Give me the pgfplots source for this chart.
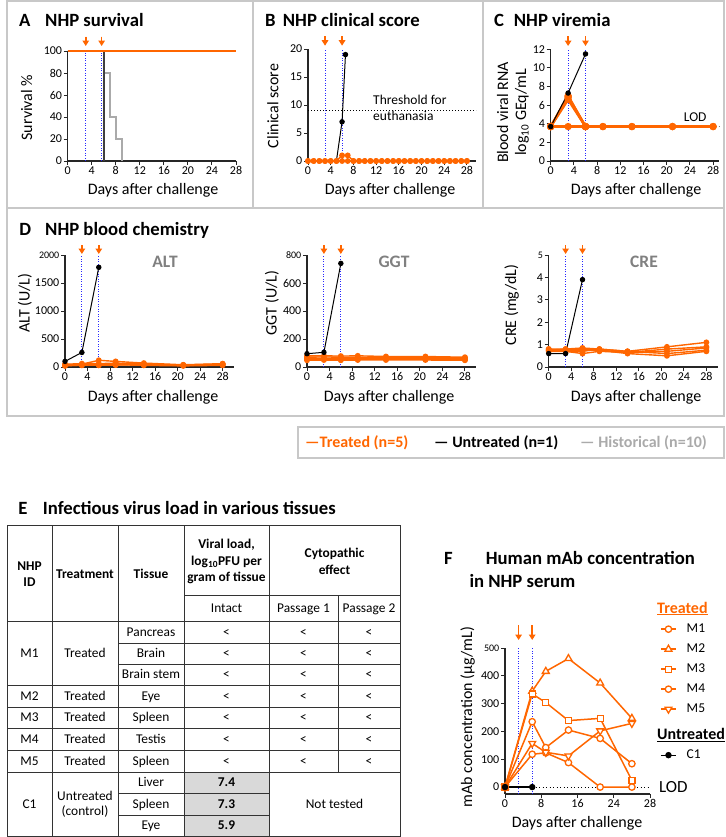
\documentclass[border=0pt]{standalone}
\usepackage{fontspec}
\setmainfont{Carlito}
\usepackage{pgfplots}
\pgfplotsset{compat=1.18}
\usetikzlibrary{arrows.meta}
\definecolor{myorg}{RGB}{255,102,0}
\definecolor{myblue}{RGB}{40,40,255}
\definecolor{hist}{RGB}{170,170,170}
\definecolor{frm}{RGB}{200,200,200}
\definecolor{cellg}{RGB}{217,217,217}
\definecolor{lblg}{RGB}{128,128,128}
\newcommand{\fs}[2]{\fontsize{#1bp}{#2bp}\selectfont}
\newcommand{\bl}[4]{\path (axis cs:#1,#3); \draw[draw=myblue, line width=1bp, dash pattern=on 1bp off 1.5bp] (axis cs:#1,#3) -- (axis cs:#1,#4) (axis cs:#2,#3) -- (axis cs:#2,#4);}
\newcommand{\arr}[4]{\draw[draw=myorg, fill=myorg, line width=1.6bp, -{Triangle[width=6.5bp,length=5.5bp]}] ([yshift=#3bp]axis cs:#1,#2) -- ([yshift=#4bp]axis cs:#1,#2);}
\newcommand{\tc}[3]{\node[anchor=base, inner sep=0pt, font=\fs{13.4}{16}] at (#1,{#2+4.4}) {#3};}
\pgfplotsset{
  gp/.style={
    scale only axis, anchor=south west,
    axis lines=left, axis line style={-, line width=1.3bp, black!85},
    tick align=outside, major tick length=4bp,
    tick style={line width=1bp, black!85},
    tick label style={font=\fs{12}{14}, inner sep=1.5bp},
    /pgf/number format/assume math mode=true,
    /pgf/number format/1000 sep={},
    clip=false, xtick={0,4,...,28},
  },
  orl/.style={color=myorg, line width=1.4bp, mark=*, mark size=2.2bp, mark options={solid}},
  orc/.style={color=myorg, line width=2.4bp, mark=*, mark size=2.4bp, mark options={solid}},
  bkl/.style={color=black, line width=1bp, mark=*, mark size=2.2bp, mark options={solid}},
  fm/.style={color=myorg, line width=1.5bp},
}
\tikzset{
  ttl/.style={anchor=base west, inner sep=0pt, font=\fs{18.7}{22}\bfseries},
  lab/.style={anchor=base, inner sep=0pt, font=\fs{16}{19}},
  ylab/.style={anchor=base, inner sep=0pt, rotate=90, font=\fs{16}{19}},
  dl/.style={anchor=base, inner sep=0pt, font=\fs{17.5}{20}\bfseries, text=lblg},
}
\begin{document}
\begin{tikzpicture}[x=1bp,y=-1bp]
\path (0,0) rectangle (726,837);
% ---------- frames
\begin{scope}[frm, line width=1.5bp]
\draw (7,1) rectangle (724,208);
\draw (253,1) -- (253,208) (483,1) -- (483,208);
\draw (7,208) rectangle (724,416);
\draw (298,427) rectangle (724,458);
\end{scope}
% ---------- titles
\node[ttl] at (19,26) {A};
\node[ttl] at (45,26) {NHP survival};
\node[ttl] at (265,26) {B};
\node[ttl] at (282.7,26) {NHP clinical score};
\node[ttl] at (494,26) {C};
\node[ttl] at (513.7,26) {NHP viremia};
\node[ttl] at (19.3,235) {D};
\node[ttl] at (45,235) {NHP blood chemistry};
\node[ttl] at (18.3,514) {E};
\node[ttl] at (42.7,514) {Infectious virus load in various tissues};
\node[ttl] at (444,564) {F};
\node[ttl] at (485.7,564) {Human mAb concentration};
\node[ttl] at (469.3,587.3) {in NHP serum};
% ---------- A
\begin{axis}[gp, at={(67.7bp,-161bp)}, width=168.3bp, height=110bp,
  xmin=0, xmax=28, ymin=0, ymax=100, ytick={0,20,...,100}]
\bl{3}{5.65}{0}{100}
\addplot[color=hist, line width=2bp, const plot] coordinates {(0,100)(6.1,80)(7.05,40)(8,20)(9.1,0)};
\addplot[color=black!75, line width=2.2bp, const plot] coordinates {(0,100)(6,0)};
\addplot[color=myorg, line width=2bp] coordinates {(0,100)(28,100)};
\arr{3}{100}{14.3}{5}\arr{5.65}{100}{14.3}{5}
\end{axis}
\node[lab] at (153,194) {Days after challenge};
\node[ylab] at (32,107.5) {Survival \%};
% ---------- B
\begin{axis}[gp, at={(308bp,-161bp)}, width=168bp, height=112bp,
  xmin=0, xmax=29.6, ymin=0, ymax=20, ytick={0,5,...,20}]
\bl{3}{6}{0}{20}
\draw[black, line width=0.9bp, dash pattern=on 1bp off 2bp] (axis cs:0,9) -- (axis cs:29.6,9);
\addplot[orl] coordinates {(0,0)(1,0)(2,0)(3,0)(4,0)(5,0)(6,0)(7,0)(8,0)(9,0)(10,0)(11,0)(12,0)(13,0)(14,0)(15,0)(16,0)(17,0)(18,0)(19,0)(20,0)(21,0)(22,0)(23,0)(24,0)(25,0)(26,0)(27,0)(28,0)};
\addplot[orl] coordinates {(0,0)(1,0)(2,0)(3,0)(4,0)(5,0)(6,1)(7,1)(8,0)(9,0)(10,0)(11,0)(12,0)(13,0)(14,0)(15,0)(16,0)(17,0)(18,0)(19,0)(20,0)(21,0)(22,0)(23,0)(24,0)(25,0)(26,0)(27,0)(28,0)};
\addplot[bkl, mark indices={2,3}] coordinates {(5,0)(6,7)(6.6,19)};
\arr{3}{20}{12.6}{3.3}\arr{6}{20}{12.6}{3.3}
\end{axis}
\node[anchor=base west, inner sep=0pt, font=\fs{13.5}{16}] at (373,104) {Threshold for};
\node[anchor=base west, inner sep=0pt, font=\fs{13.5}{16}] at (373,120.7) {euthanasia};
\node[lab] at (390,194) {Days after challenge};
\node[ylab] at (278.3,106) {Clinical score};
% ---------- C
\begin{axis}[gp, at={(550.7bp,-161bp)}, width=168.2bp, height=111.7bp,
  xmin=0, xmax=29, ymin=0, ymax=12, ytick={0,2,...,12}]
\bl{3}{6}{0}{12}
\draw[black!50, line width=0.9bp, dash pattern=on 1bp off 2bp] (axis cs:0,3.7) -- (axis cs:29.2,3.7);
\addplot[orc] coordinates {(0,3.7)(3,7.0)(6,3.7)(9,3.7)(14,3.7)(21,3.7)(28,3.7)};
\addplot[orc] coordinates {(0,3.7)(3,6.8)(6,3.7)};
\addplot[orc] coordinates {(0,3.7)(3,6.6)(6,3.7)};
\addplot[orc] coordinates {(0,3.7)(3,6.9)(6,3.7)};
\addplot[orc] coordinates {(0,3.7)(3,3.7)(6,3.7)(9,3.7)(14,3.7)(21,3.7)(28,3.7)};
\addplot[bkl] coordinates {(0,3.7)(3,7.3)(6,11.5)};
\arr{3}{12}{13.3}{3.3}\arr{6}{12}{13.3}{3.3}
\end{axis}
\node[anchor=base west, inner sep=0pt, font=\fs{13.5}{16}] at (683.7,121.7) {LOD};
\node[lab] at (636,194) {Days after challenge};
\node[ylab] at (508,112.5) {Blood viral RNA};
\node[ylab] at (526,112.5) {log\textsubscript{10} GEq/mL};
% ---------- D : ALT
\begin{axis}[gp, at={(65bp,-367bp)}, width=168.9bp, height=112bp,
  xmin=0, xmax=30, ymin=0, ymax=2000, ytick={0,500,...,2000},
  yticklabels={0,500,1000,1500,{\fs{10}{12}2000}}]
\bl{3}{6}{0}{2000}
\addplot[orl] coordinates {(0,40)(3,50)(6,120)(9,100)(14,70)(21,40)(28,60)};
\addplot[orl] coordinates {(0,30)(3,40)(6,30)(9,35)(14,45)(21,25)(28,45)};
\addplot[orl] coordinates {(0,50)(3,60)(6,60)(9,70)(14,55)(21,35)(28,55)};
\addplot[orl] coordinates {(0,20)(3,35)(6,45)(9,55)(14,40)(21,30)(28,40)};
\addplot[orl] coordinates {(0,25)(3,30)(6,35)(9,40)(14,30)(21,20)(28,30)};
\addplot[bkl] coordinates {(0,100)(3,260)(6,1780)};
\arr{3}{2000}{10}{1}\arr{6}{2000}{10}{1}
\end{axis}
\node[dl] at (165,267) {ALT};
\node[lab] at (153,401.7) {Days after challenge};
\node[ylab] at (29.5,303) {ALT (U/L)};
% ---------- D : GGT
\begin{axis}[gp, at={(307bp,-367bp)}, width=169.2bp, height=112bp,
  xmin=0, xmax=30, ymin=0, ymax=800, ytick={0,200,...,800},
  yticklabels={0,200,400,600,{\fs{10}{12}800}}]
\bl{3}{6}{0}{800}
\addplot[orl] coordinates {(0,80)(3,80)(6,78)(9,80)(14,75)(21,75)(28,70)};
\addplot[orl] coordinates {(0,70)(3,72)(6,70)(9,68)(14,70)(21,68)(28,65)};
\addplot[orl] coordinates {(0,60)(3,62)(6,60)(9,62)(14,60)(21,60)(28,58)};
\addplot[orl] coordinates {(0,55)(3,55)(6,55)(9,55)(14,56)(21,55)(28,52)};
\addplot[orl] coordinates {(0,48)(3,50)(6,48)(9,50)(14,50)(21,50)(28,48)};
\addplot[bkl] coordinates {(0,95)(3,105)(6,740)};
\arr{3}{800}{10}{1}\arr{6}{800}{10}{1}
\end{axis}
\node[dl] at (394,267) {GGT};
\node[lab] at (389,401.7) {Days after challenge};
\node[ylab] at (276.5,303) {GGT (U/L)};
% ---------- D : CRE
\begin{axis}[gp, at={(548.7bp,-367bp)}, width=168.9bp, height=112bp,
  xmin=0, xmax=30, ymin=0, ymax=5, ytick={0,1,...,5},
  yticklabels={0,1,2,3,4,{\fs{10}{12}5}}]
\bl{3}{6}{0}{5}
\addplot[orl] coordinates {(0,0.8)(3,0.8)(6,0.85)(9,0.8)(14,0.7)(21,0.9)(28,1.1)};
\addplot[orl] coordinates {(0,0.75)(3,0.75)(6,0.75)(9,0.75)(14,0.65)(21,0.8)(28,0.9)};
\addplot[orl] coordinates {(0,0.7)(3,0.7)(6,0.6)(9,0.7)(14,0.65)(21,0.7)(28,0.85)};
\addplot[orl] coordinates {(0,0.8)(3,0.7)(6,0.7)(9,0.8)(14,0.7)(21,0.6)(28,0.75)};
\addplot[orl] coordinates {(0,0.75)(3,0.8)(6,0.8)(9,0.75)(14,0.6)(21,0.5)(28,0.7)};
\addplot[bkl] coordinates {(0,0.6)(3,0.6)(6,3.9)};
\arr{3}{5}{10}{1}\arr{6}{5}{10}{1}
\end{axis}
\node[dl] at (644,267) {CRE};
\node[lab] at (636,401.7) {Days after challenge};
\node[ylab] at (516,305) {CRE (mg/dL)};
% ---------- legend box
\node[anchor=base west, inner sep=0pt, font=\fs{16}{19}\bfseries, text=myorg] at (305,447) {---Treated (n=5)};
\node[anchor=base west, inner sep=0pt, font=\fs{16}{19}\bfseries, text=black] at (434,447) {--- Untreated (n=1)};
\node[anchor=base west, inner sep=0pt, font=\fs{16}{19}\bfseries, text=hist] at (580,447) {--- Historical (n=10)};
% ---------- table E
\fill[cellg] (184,772) rectangle (269,836);
\begin{scope}[line width=1bp, black!80]
\draw (7,525) rectangle (400,836);
\draw (52,525) -- (52,836) (118,525) -- (118,836) (184,525) -- (184,836) (269,525) -- (269,836);
\draw (338,595) -- (338,772);
\draw (184,595) -- (400,595);
\draw (7,621) -- (400,621);
\draw (118,643) -- (400,643) (118,664) -- (400,664);
\foreach \y in {685,707,728,750,772} \draw (7,\y) -- (400,\y);
\draw (118,793) -- (269,793) (118,815) -- (269,815);
\end{scope}
\node[inner sep=0pt, align=center, font=\fs{13.4}{16.5}\bfseries] at (29.5,574) {NHP\\ID};
\node[inner sep=0pt, align=center, font=\fs{13.4}{16.5}\bfseries] at (85,574) {Treatment};
\node[inner sep=0pt, align=center, font=\fs{13.4}{16.5}\bfseries] at (151,574) {Tissue};
\node[inner sep=0pt, align=center, font=\fs{13.4}{16.5}\bfseries] at (226.5,561.5) {Viral load,\\log\textsubscript{10}PFU per\\gram of tissue};
\node[inner sep=0pt, align=center, font=\fs{13.4}{16.5}\bfseries] at (334.5,561.5) {Cytopathic\\effect};
\tc{226.5}{608}{Intact}\tc{303.5}{608}{Passage 1}\tc{369}{608}{Passage 2}
\tc{29.5}{653.5}{M1}\tc{85}{653.5}{Treated}
\tc{151}{632}{Pancreas}\tc{226.5}{632}{<}\tc{303.5}{632}{<}\tc{369}{632}{<}
\tc{151}{653.5}{Brain}\tc{226.5}{653.5}{<}\tc{303.5}{653.5}{<}\tc{369}{653.5}{<}
\tc{151}{674.5}{Brain stem}\tc{226.5}{674.5}{<}\tc{303.5}{674.5}{<}\tc{369}{674.5}{<}
\tc{29.5}{696}{M2}\tc{85}{696}{Treated}\tc{151}{696}{Eye}\tc{226.5}{696}{<}\tc{303.5}{696}{<}\tc{369}{696}{<}
\tc{29.5}{717.5}{M3}\tc{85}{717.5}{Treated}\tc{151}{717.5}{Spleen}\tc{226.5}{717.5}{<}\tc{303.5}{717.5}{<}\tc{369}{717.5}{<}
\tc{29.5}{739}{M4}\tc{85}{739}{Treated}\tc{151}{739}{Testis}\tc{226.5}{739}{<}\tc{303.5}{739}{<}\tc{369}{739}{<}
\tc{29.5}{761}{M5}\tc{85}{761}{Treated}\tc{151}{761}{Spleen}\tc{226.5}{761}{<}\tc{303.5}{761}{<}\tc{369}{761}{<}
\tc{29.5}{804}{C1}
\node[inner sep=0pt, align=center, font=\fs{13.4}{15.5}] at (85,804.5) {Untreated\\(control)};
\tc{151}{782.5}{Liver}\tc{151}{804}{Spleen}\tc{151}{825.5}{Eye}
\tc{226.5}{782.5}{\bfseries 7.4}\tc{226.5}{804}{\bfseries 7.3}\tc{226.5}{825.5}{\bfseries 5.9}
\tc{334.5}{804}{Not tested}
% ---------- F
\begin{axis}[gp, at={(505bp,-794bp)}, width=145bp, height=146bp,
  xmin=0, xmax=32, ymin=-25, ymax=500,
  xtick={0,8,16,24,32}, xticklabels={0,8,16,24,28},
  ytick={0,100,...,500}, yticklabels={0,100,200,300,400,{\fs{10}{12}500}},
  legend cell align=left,
  legend image code/.code={\draw[mark repeat=2,mark phase=2,#1] plot coordinates {(0bp,0bp) (7.5bp,0bp) (15bp,0bp)};},
  legend style={at={(axis description cs:1.069,1.175)}, anchor=north west, draw=none, fill=none,
     inner sep=0pt, row sep=7bp, column sep=10bp, font=\fs{13.5}{16},
     nodes={inner sep=0pt, text height=10bp, text depth=3bp}},
]
\bl{3}{6}{-25}{500}
\draw[black, line width=1bp, dash pattern=on 1bp off 2.5bp] (axis cs:6,0) -- (axis cs:32,0);
\addplot[fm, mark=*, mark size=3.2bp, mark options={fill=white, solid, line width=1.3bp}] coordinates {(0,0)(6,235)(9,142)(14,205)(21,175)(28,84)};
\addlegendentry{M1}
\addplot[fm, mark=triangle*, mark size=4bp, mark options={fill=white, solid, line width=1.3bp}] coordinates {(0,0)(6,345)(9,416)(14,462)(21,374)(28,247)};
\addlegendentry{M2}
\addplot[fm, mark=square*, mark size=3bp, mark options={fill=white, solid, line width=1.3bp}] coordinates {(0,0)(6,335)(9,304)(14,239)(21,247)(28,24)};
\addlegendentry{M3}
\addplot[fm, mark=*, mark size=3.2bp, mark options={fill=white, solid, line width=1.3bp}] coordinates {(0,0)(6,118)(9,123)(14,88)(21,0)(28,0)};
\addlegendentry{M4}
\addplot[fm, mark=triangle*, mark size=4bp, mark options={fill=white, solid, line width=1.3bp, rotate=180}] coordinates {(0,0)(6,157)(9,125)(14,112)(21,202)(28,229)};
\addlegendentry{M5}
\addlegendimage{empty legend}
\addlegendentry[text height=19bp, text depth=0bp]{}
\addplot[color=black, line width=1.2bp, mark=*, mark size=2.6bp] coordinates {(0,0)(6,0)};
\addlegendentry{C1}
\arr{3}{500}{23}{8}\arr{6}{500}{23}{8}
\end{axis}
\node[anchor=base west, inner sep=0pt, font=\fs{16}{19}\bfseries, text=myorg] at (657,613) {\underline{Treated}};
\node[anchor=base west, inner sep=0pt, font=\fs{16}{19}\bfseries, text=black] at (657,739.5) {\underline{Untreated}};
\node[anchor=base west, inner sep=0pt, font=\fs{17}{20}] at (659,792.5) {LOD};
\node[lab] at (577,827) {Days after challenge};
\node[ylab] at (472,717) {mAb concentration (µg/mL)};
\end{tikzpicture}
\end{document}
